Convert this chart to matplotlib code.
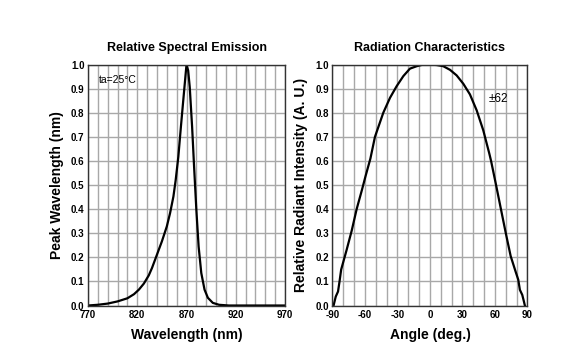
import numpy as np
import matplotlib.pyplot as plt

plt.rcParams['font.family'] = ['Liberation Sans', 'DejaVu Sans']
plt.rcParams['axes.unicode_minus'] = False

# spectral emission curve
wl = [770, 780, 790, 800, 810, 816.7, 821.7, 826.7, 831.7, 835, 840, 845, 850, 853.3,
      856.7, 859, 861.7, 864.3, 866.7, 869, 870, 871.7, 873.3, 875.7, 877.7, 880, 882.3,
      885, 888.3, 891.7, 896.7, 903, 913, 970]
rel = [0.0, 0.003, 0.008, 0.017, 0.030, 0.047, 0.066, 0.091, 0.125, 0.156, 0.211, 0.266,
       0.328, 0.383, 0.452, 0.52, 0.617, 0.741, 0.851, 0.955, 1.0, 0.975, 0.906, 0.741,
       0.576, 0.397, 0.245, 0.135, 0.066, 0.032, 0.011, 0.003, 0.0, 0.0]

# radiation pattern
angle = [-89, -87, -84.9, -83.5, -82, -77, -72.3, -67.7, -62.8, -59.6, -55, -50.8, -43.1,
         -36.9, -30.8, -24.6, -18.5, -12.3, -6.2, 0, 6.2, 12.3, 18.5, 24.6, 30.8, 36.9,
         43.1, 49.2, 54.8, 56.4, 61, 65.5, 70, 74.5, 79.1, 81.5, 83, 85.2, 86.7, 87.6]
intensity = [0.0, 0.037, 0.058, 0.1, 0.149, 0.23, 0.31, 0.4, 0.48, 0.535, 0.61, 0.7, 0.8,
             0.862, 0.91, 0.952, 0.983, 0.993, 1.0, 1.0, 0.998, 0.993, 0.978, 0.955, 0.92,
             0.876, 0.81, 0.727, 0.63, 0.6, 0.5, 0.4, 0.3, 0.205, 0.14, 0.107, 0.065, 0.044,
             0.017, 0.0]

fig = plt.figure(figsize=(5.82, 3.64), dpi=100)
ax1 = fig.add_axes([0.1512, 0.1607, 0.3385, 0.662])
ax2 = fig.add_axes([0.5713, 0.1607, 0.335, 0.662])


def style(ax, xmin, xmax, xstep, xticks):
    ax.set_xlim(xmin, xmax)
    ax.set_ylim(0, 1.0)
    ax.set_xticks(np.arange(xmin, xmax + 0.1, xstep), minor=True)
    ax.set_xticks(xticks)
    ax.set_yticks(np.round(np.arange(0, 1.01, 0.1), 1))
    ax.set_yticklabels(['%.1f' % v for v in np.arange(0, 1.01, 0.1)])
    ax.grid(True, which='both', color='#a8a8a8', linewidth=1)
    ax.tick_params(which='both', length=0, labelsize=7)
    ax.tick_params(axis='x', pad=3)
    ax.tick_params(axis='y', pad=2.5)
    for lab in ax.get_xticklabels() + ax.get_yticklabels():
        lab.set_fontweight('bold')
    for s in ax.spines.values():
        s.set_color('#333333')
        s.set_linewidth(1)
    ax.set_axisbelow(True)


style(ax1, 770, 970, 10, [770, 820, 870, 920, 970])
ax1.plot(wl, rel, color='black', linewidth=1.6, solid_joinstyle='round')
ax1.set_title('Relative Spectral Emission', fontsize=9, fontweight='bold', pad=10)
ax1.set_xlabel('Wavelength (nm)', fontsize=10, fontweight='bold', labelpad=6)
ax1.set_ylabel('Peak Wavelength (nm)', fontsize=10, fontweight='bold', labelpad=5)
ax1.text(781, 0.935, 'ta=25\u00b0C', fontsize=7.5, va='center')

style(ax2, -90, 90, 10, [-90, -60, -30, 0, 30, 60, 90])
ax2.plot(angle, intensity, color='black', linewidth=1.6, solid_joinstyle='round')
ax2.set_title('Radiation Characteristics', fontsize=9, fontweight='bold', pad=10)
ax2.set_xlabel('Angle (deg.)', fontsize=10, fontweight='bold', labelpad=6)
ax2.set_ylabel('Relative Radiant Intensity (A. U.)', fontsize=10, fontweight='bold', labelpad=5)
ax2.text(63, 0.855, '\u00b162', fontsize=8.5, ha='center', va='center')

fig.savefig('out.png', dpi=100)
